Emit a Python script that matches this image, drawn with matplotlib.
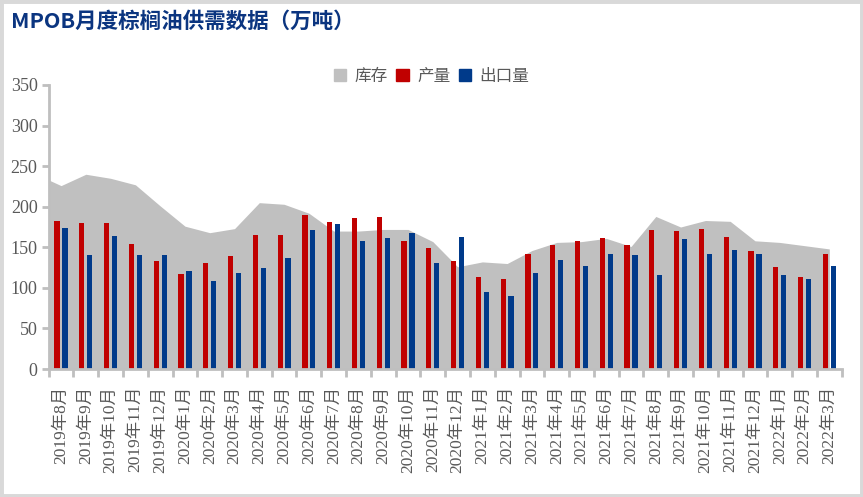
import numpy as np
import matplotlib.pyplot as plt
from matplotlib.patches import Patch, Rectangle

# MPOB monthly palm oil data (10k tonnes)
months = ['2019年8月', '2019年9月', '2019年10月', '2019年11月', '2019年12月',
          '2020年1月', '2020年2月', '2020年3月', '2020年4月', '2020年5月',
          '2020年6月', '2020年7月', '2020年8月', '2020年9月', '2020年10月',
          '2020年11月', '2020年12月', '2021年1月', '2021年2月', '2021年3月',
          '2021年4月', '2021年5月', '2021年6月', '2021年7月', '2021年8月',
          '2021年9月', '2021年10月', '2021年11月', '2021年12月', '2022年1月',
          '2022年2月', '2022年3月']
stock = [226, 240, 235, 227, 201, 176, 168, 173, 205, 203,
         192, 170, 170, 172, 172, 157, 126, 132, 130, 146,
         156, 157, 161, 151, 188, 175, 183, 182, 158, 156,
         152, 148]
stock_left_edge = 233  # value where the grey area meets the y axis
production = [182, 180, 180, 154, 133, 117, 131, 139, 165, 165,
              190, 181, 186, 187, 158, 149, 133, 113, 111, 142,
              153, 158, 161, 153, 171, 170, 172, 163, 145, 126,
              113, 142]
exports = [174, 140, 164, 140, 140, 121, 108, 118, 124, 137,
           171, 179, 158, 161, 168, 131, 163, 95, 90, 118,
           134, 127, 142, 140, 116, 160, 142, 147, 142, 116,
           111, 127]

GREY = '#c0c0c0'
RED = '#c00000'
BLUE = '#003a8a'
AXIS = '#bfbfbf'
TEXT = '#595959'
CN_SERIF = ['Liberation Serif', 'Noto Sans CJK SC']

fig = plt.figure(figsize=(8.63, 4.97), dpi=100)
ax = fig.add_axes([0.0564, 0.2575, 0.9189, 0.5715])

x = np.arange(len(months))
n = len(months)

# inventory as grey area behind the bars
ax.fill_between(np.r_[-0.5, x], np.r_[stock_left_edge, stock], 0,
                color=GREY, linewidth=0, zorder=1)

w = 0.21
ax.bar(x - 0.16, production, width=w, color=RED, zorder=2)
ax.bar(x + 0.16, exports, width=w, color=BLUE, zorder=2)

ax.set_xlim(-0.5, n - 0.5)
ax.set_ylim(0, 350)
ax.set_yticks(range(0, 351, 50))
ax.tick_params(axis='y', length=5, width=2, color=AXIS, pad=3,
               labelsize=13, labelcolor=TEXT)
for lab in ax.get_yticklabels():
    lab.set_family('Liberation Serif')

# tick marks between categories, labels at category centres
ax.set_xticks(np.arange(-0.5, n, 1.0))
ax.set_xticklabels([])
ax.tick_params(axis='x', which='major', length=6, width=2, color=AXIS)
ax.set_xticks(x, minor=True)
ax.set_xticklabels(months, minor=True, rotation=90, family=CN_SERIF,
                   fontsize=12.5, color=TEXT)
ax.tick_params(axis='x', which='minor', length=0, pad=12)

for s in ['top', 'right']:
    ax.spines[s].set_visible(False)
for s in ['left', 'bottom']:
    ax.spines[s].set_color(AXIS)
    ax.spines[s].set_linewidth(2)

handles = [Patch(color=GREY, label='库存'),
           Patch(color=RED, label='产量'),
           Patch(color=BLUE, label='出口量')]
fig.legend(handles=handles, loc='center', bbox_to_anchor=(0.5, 0.846),
           ncol=3, frameon=False, handlelength=0.75, handleheight=0.75,
           handletextpad=0.5, columnspacing=0.5,
           prop={'family': 'Noto Sans CJK SC', 'size': 12},
           labelcolor=TEXT)

fig.text(0.013, 0.957, 'MPOB月度棕榈油供需数据（万吨）', ha='left', va='center',
         fontsize=15.5, fontweight='bold', color='#0b3580',
         family=['Noto Sans CJK SC', 'DejaVu Sans'])

# light grey frame around the picture
fig.patches.append(Rectangle((0, 0), 1, 1, transform=fig.transFigure,
                             fill=False, edgecolor='#d9d9d9', linewidth=5))

fig.savefig('out.png', dpi=100)
